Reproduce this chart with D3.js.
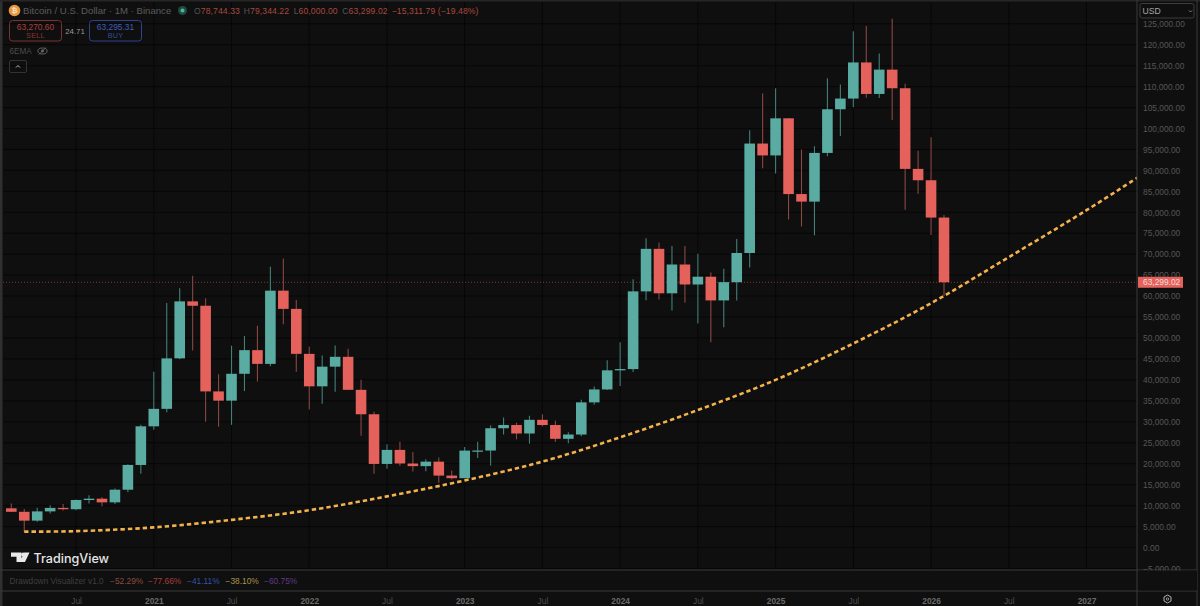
<!DOCTYPE html>
<html>
<head>
<meta charset="utf-8">
<title>BTC monthly</title>
<script src="https://cdn.jsdelivr.net/npm/d3@7"></script>
<style>
  html, body { margin: 0; padding: 0; background: #0f0f0f; overflow: hidden; }
  text { font-family: "Liberation Sans", sans-serif; }
</style>
</head>
<body>
<div id="chart"></div>
<script>
// monthly candles, Feb 2020 -> Feb 2026
const opens = [9351,8523,6412,8620,9448,9138,11335,11649,10776,13791,19700,
  28923,33092,45134,58739,57697,37254,35045,41461,47100,43820,61299,56950,
  46216,38466,43160,45510,37630,31801,19942,23296,20048,19422,20490,17165,
  16542,23125,23141,28465,29233,27210,30471,29232,25940,26962,34639,37723,
  42283,42580,61130,71280,60672,67540,62772,64628,58974,63327,70292,96407,
  93576,102429,84349,82550,94172,104591,107146,115764,108246,114048,109608,90360,
  87648,78744];
const highs = [10500,9188,9460,10067,10380,11444,12468,12050,14100,19863,29300,
  41950,58352,61844,64854,59500,41330,48168,50500,52920,67000,69000,59053,
  47990,45821,48189,47444,40023,32395,24668,25214,22799,21085,21480,18387,
  23960,25250,29184,31000,29820,31431,31804,30244,27483,35280,38450,44700,
  48969,64000,73777,72797,71979,71980,70079,65660,66498,73620,99588,108353,
  109588,102500,95000,95758,111980,110530,123218,124474,117900,126199,110700,94700,
  97900,79344];
const lows = [8445,3782,6150,8117,8833,8893,10518,9825,10374,13195,17572,
  28130,32296,44950,47044,30000,28805,29278,37332,39600,43283,53256,41967,
  32917,34322,37155,37578,26700,17622,18781,19520,18125,18190,15476,16256,
  16499,21351,19549,26942,25811,24800,28861,25166,24901,26538,34097,37615,
  38555,41884,59005,59191,56552,58402,53485,49000,52550,58946,66835,90500,
  89256,78258,76606,74508,93377,98200,105100,107350,107255,102000,80600,84450,
  74600,60000];
const closes = [8523,6410,8620,9448,9138,11335,11649,10776,13791,19700,28923,
  33092,45135,58740,57694,37253,35045,41461,47100,43824,61299,56950,46216,
  38466,43160,45510,37630,31801,19942,23293,20050,19422,20490,17163,16542,
  23125,23141,28465,29233,27210,30472,29232,25940,26962,34639,37723,42283,
  42580,61130,71280,60672,67540,62772,64628,58974,63327,70292,96407,93576,
  102429,84349,82550,94172,104591,107146,115764,108246,114048,109608,90360,87648,
  78744,63299];

// dashed support curve, [bar index, price]
const curveIdx = [1,5,11,17,23,29,35,41,47,53,59,65,71,77,83,87];
const curveVal = [3782,3900,4800,6600,8900,12200,16000,20500,26300,32800,40000,48700,58300,69300,80500,88400];

const lastPrice = 63299.02;
const priceTicks = d3.range(-5000, 125001, 5000);
const timeIdx = [5,11,17,23,29,35,41,47,53,59,65,71,77,83];
const timeLabels = ["Jul","2021","Jul","2022","Jul","2023","Jul","2024","Jul","2025","Jul","2026","Jul","2027"];
const yearTicks = ["2021","2022","2023","2024","2025","2026","2027"];
const drawdownLabels = ["−52.29%","−77.66%","−41.11%","−38.10%","−60.75%"];
const drawdownColors = ["#8a4a44","#a33f3c","#3553a8","#a8944e","#5f3a86"];

const w = 1200, h = 606;
const plotRight = 1137, plotBottom = 570, timeTop = 591;
const bg = "#0f0f0f", up = "#5aaca2", down = "#e5625c";
const upWick = "#42807a", downWick = "#8c4744";

const svg = d3.select("#chart").append("svg")
    .attr("width", w)
    .attr("height", h)
    .style("display", "block")
    .style("background", bg);

const x = d3.scaleLinear().domain([0, 72]).range([11.3, 944]);
const y = d3.scaleLinear().domain([0, 125000]).range([547.5, 23.75]);

svg.append("defs").append("clipPath").attr("id", "plot")
    .append("rect").attr("width", plotRight).attr("height", plotBottom);

// grid
const grid = svg.append("g").attr("stroke", "#070707").attr("stroke-width", 1);
grid.selectAll("line.h").data(priceTicks).enter().append("line")
    .attr("x1", 3).attr("x2", plotRight)
    .attr("y1", d => y(d)).attr("y2", d => y(d));
grid.selectAll("line.v").data(timeIdx).enter().append("line")
    .attr("x1", d => x(d)).attr("x2", d => x(d))
    .attr("y1", 2).attr("y2", plotBottom);

// last price line
svg.append("line")
    .attr("x1", 3).attr("x2", plotRight)
    .attr("y1", y(lastPrice)).attr("y2", y(lastPrice))
    .attr("stroke", "#7a3b38").attr("stroke-width", 1)
    .attr("stroke-dasharray", "1 2");

// candles
const bars = svg.append("g").selectAll("g").data(opens).enter().append("g");
bars.append("line")
    .attr("x1", (d, i) => x(i)).attr("x2", (d, i) => x(i))
    .attr("y1", (d, i) => y(highs[i])).attr("y2", (d, i) => y(lows[i]))
    .attr("stroke", (d, i) => closes[i] >= d ? upWick : downWick)
    .attr("stroke-width", 1.1);
bars.append("rect")
    .attr("x", (d, i) => x(i) - 5.3)
    .attr("width", 10.6)
    .attr("y", (d, i) => y(Math.max(d, closes[i])))
    .attr("height", (d, i) => Math.max(1.2, Math.abs(y(d) - y(closes[i]))))
    .attr("fill", (d, i) => closes[i] >= d ? up : down);

// curve
const curveLine = d3.line()
    .x(d => x(d))
    .y((d, i) => y(curveVal[i]))
    .curve(d3.curveCatmullRom);
svg.append("path")
    .datum(curveIdx)
    .attr("clip-path", "url(#plot)")
    .attr("d", curveLine)
    .attr("fill", "none")
    .attr("stroke", "#f3b24c")
    .attr("stroke-width", 2.6)
    .attr("stroke-dasharray", "4.4 3");

// panel lines
const lineCol = "#3a3a3a";
svg.append("rect").attr("width", 2.5).attr("height", h).attr("fill", "#303030");
svg.append("rect").attr("width", w).attr("height", 1.5).attr("fill", "#262626");
[[0, plotRight + 60, plotBottom, plotBottom], [0, plotRight + 60, timeTop, timeTop],
 [plotRight, plotRight, 0, h], [1197, 1197, 0, h]].forEach(l => {
    svg.append("line").attr("x1", l[0]).attr("x2", l[1]).attr("y1", l[2]).attr("y2", l[3])
        .attr("stroke", lineCol).attr("stroke-width", 1);
});

// price axis
const axisY = d3.axisRight(y)
    .tickValues(priceTicks)
    .tickSize(0)
    .tickPadding(0)
    .tickFormat(d => d3.format(",.2f")(d).replace("-", "−"));
const gy = svg.append("g")
    .attr("transform", `translate(${plotRight + 6}, 0)`)
    .call(axisY);
gy.select(".domain").remove();
gy.selectAll("text").attr("fill", "#565656").style("font-size", "8.4px").style("font-family", "Liberation Sans");

// cover for clipped labels
svg.append("rect").attr("x", plotRight + 1).attr("y", plotBottom + 0.5).attr("width", 59).attr("height", 20).attr("fill", bg);

// time axis
const axisX = d3.axisBottom(x)
    .tickValues(timeIdx)
    .tickSize(0)
    .tickPadding(0)
    .tickFormat(d => timeLabels[timeIdx.indexOf(d)]);
const gx = svg.append("g")
    .attr("transform", `translate(0, 598)`)
    .call(axisX);
gx.select(".domain").remove();
gx.selectAll("text")
    .attr("fill", d => yearTicks.includes(timeLabels[timeIdx.indexOf(d)]) ? "#6a6a6a" : "#4d4d4d")
    .style("font-size", "8.4px")
    .style("font-family", "Liberation Sans")
    .style("font-weight", d => yearTicks.includes(timeLabels[timeIdx.indexOf(d)]) ? 700 : 400);

// last price tag
svg.append("rect").attr("x", plotRight + 1).attr("y", y(lastPrice) - 5.5)
    .attr("width", 45).attr("height", 11).attr("fill", down);
svg.append("text").attr("x", plotRight + 6).attr("y", y(lastPrice) + 3)
    .attr("fill", "#f4dcda").style("font-size", "8.4px")
    .text(d3.format(",.2f")(lastPrice));

// currency box
svg.append("rect").attr("x", 1140).attr("y", 3.5).attr("width", 54).attr("height", 14.5).attr("rx", 2)
    .attr("fill", "#0f0f0f").attr("stroke", "#3c3c3c");
svg.append("text").attr("x", 1142.5).attr("y", 14).attr("fill", "#a8a8a8").style("font-size", "8.6px").text("USD");
svg.append("path").attr("d", "M1189 10.5l1.5 1.5 1.5-1.5").attr("fill", "none").attr("stroke", "#999").attr("stroke-width", 0.8);

// settings icon
svg.append("path")
    .attr("d", "M1167.5 595l3.5 2v4l-3.5 2-3.5-2v-4z")
    .attr("fill", "none").attr("stroke", "#b0b0b0").attr("stroke-width", 1);
svg.append("circle").attr("cx", 1167.5).attr("cy", 599).attr("r", 1.2).attr("fill", "none").attr("stroke", "#b0b0b0").attr("stroke-width", 0.8);

// legend header
svg.append("circle").attr("cx", 14.5).attr("cy", 10.5).attr("r", 5.8).attr("fill", "#e8973f");
svg.append("text").attr("x", 14.5).attr("y", 13).attr("text-anchor", "middle").attr("fill", "#f8e3c8")
    .style("font-size", "7px").style("font-weight", 700).text("₿");
svg.append("text").attr("x", 23).attr("y", 14).attr("fill", "#5c5c5c")
    .style("font-size", "9.6px").text("Bitcoin / U.S. Dollar · 1M · Binance");
svg.append("circle").attr("cx", 182.5).attr("cy", 10.5).attr("r", 4.5).attr("fill", "#1f4a42");
svg.append("circle").attr("cx", 182.5).attr("cy", 10.5).attr("r", 2).attr("fill", "#4db39a");

const ohlcNames = ["O", "H", "L", "C"];
const ohlcVals = ["78,744.33", "79,344.22", "60,000.00", "63,299.02"];
const ohlcX = [194, 243.7, 293.7, 342.3];
ohlcNames.forEach((n, i) => {
    const t = svg.append("text").attr("x", ohlcX[i]).attr("y", 14)
        .style("font-size", "8.6px").style("letter-spacing", "0.1px");
    t.append("tspan").attr("fill", "#555").text(n);
    t.append("tspan").attr("fill", "#a8483f").text(ohlcVals[i]);
});
svg.append("text").attr("x", 391.7).attr("y", 14).attr("fill", "#a8483f")
    .style("font-size", "8.6px").style("letter-spacing", "0.1px").text("−15,311.79 (−19.48%)");

// sell / buy
const tradeBtn = (bx, bw, col, txt, price, label) => {
    svg.append("rect").attr("x", bx).attr("y", 20.5).attr("width", bw).attr("height", 20.5).attr("rx", 3)
        .attr("fill", "none").attr("stroke", col);
    svg.append("text").attr("x", bx + bw / 2).attr("y", 29.8).attr("text-anchor", "middle").attr("fill", txt)
        .style("font-size", "8.4px").text(price);
    svg.append("text").attr("x", bx + bw / 2).attr("y", 38).attr("text-anchor", "middle").attr("fill", txt)
        .attr("opacity", 0.8).style("font-size", "7.2px").style("letter-spacing", "0.3px").text(label);
};
tradeBtn(9.5, 52, "#7c3234", "#a8403f", "63,270.60", "SELL");
tradeBtn(89.5, 52, "#2f4390", "#3f5cba", "63,295.31", "BUY");
svg.append("text").attr("x", 75).attr("y", 33.5).attr("text-anchor", "middle").attr("fill", "#9a9a9a")
    .style("font-size", "7.8px").text("24.71");

// 6EMA row
svg.append("text").attr("x", 9.5).attr("y", 54).attr("fill", "#4c4c4c").style("font-size", "8.2px").text("6EMA");
svg.append("ellipse").attr("cx", 42.5).attr("cy", 51).attr("rx", 4.6).attr("ry", 3)
    .attr("fill", "none").attr("stroke", "#6c6c6c").attr("stroke-width", 0.9);
svg.append("circle").attr("cx", 42.5).attr("cy", 51).attr("r", 1.4).attr("fill", "#6c6c6c");
svg.append("line").attr("x1", 39).attr("x2", 46).attr("y1", 54.5).attr("y2", 47.5).attr("stroke", "#6c6c6c").attr("stroke-width", 0.8);
svg.append("rect").attr("x", 9.5).attr("y", 60.5).attr("width", 17).attr("height", 12).attr("rx", 1.5)
    .attr("fill", "none").attr("stroke", "#333");
svg.append("path").attr("d", "M16 67.5l2-2 2 2").attr("fill", "none").attr("stroke", "#bbb").attr("stroke-width", 1);

// TradingView mark
svg.append("path")
    .attr("d", "M11 552.5h10.5v9.5h-5v-5.2h-5.5z M29.5 552.5l-4.5 9.5h-5.2l4.5-9.5z")
    .attr("fill", "#e8e8e8");
svg.append("circle").attr("cx", 23.2).attr("cy", 554.6).attr("r", 2.1).attr("fill", "#e8e8e8");
svg.append("text").attr("x", 33.5).attr("y", 562.5).attr("fill", "#e6e6e6")
    .style("font-family", "Inter").style("font-size", "12.6px").style("font-weight", 500).text("TradingView");

// drawdown pane
svg.append("text").attr("x", 9.5).attr("y", 584).attr("fill", "#3f3f3f")
    .style("font-size", "8.2px").text("Drawdown Visualizer v1.0");
const ddX = [110, 148, 187, 225.5, 264];
svg.append("g").selectAll("text").data(drawdownLabels).enter().append("text")
    .attr("x", (d, i) => ddX[i]).attr("y", 584)
    .attr("fill", (d, i) => drawdownColors[i])
    .style("font-size", "8.4px")
    .text(d => d);
</script>
</body>
</html>
